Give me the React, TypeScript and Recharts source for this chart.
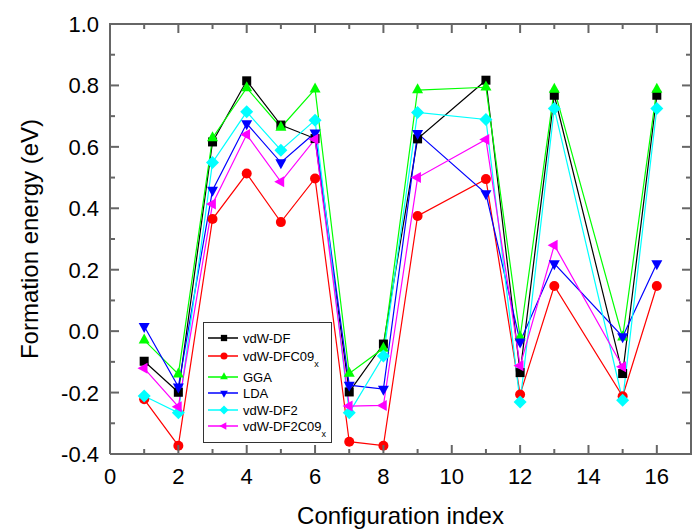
import React from 'react';
import { LineChart, Line, XAxis, YAxis } from 'recharts';

const configIndex = [1, 2, 3, 4, 5, 6, 7, 8, 9, 11, 12, 13, 15, 16];
const vdwDF = [-0.098, -0.199, 0.616, 0.815, 0.671, 0.627, -0.198, -0.042, 0.626, 0.817, -0.135, 0.768, -0.138, 0.768];
const vdwDFC09 = [-0.222, -0.373, 0.365, 0.513, 0.355, 0.497, -0.36, -0.373, 0.375, 0.495, -0.206, 0.147, -0.212, 0.147];
const gga = [-0.029, -0.14, 0.629, 0.792, 0.663, 0.788, -0.138, -0.056, 0.785, 0.794, -0.02, 0.787, -0.02, 0.787];
const lda = [0.016, -0.181, 0.459, 0.676, 0.549, 0.646, -0.176, -0.189, 0.644, 0.448, -0.035, 0.22, -0.018, 0.22];
const vdwDF2 = [-0.211, -0.266, 0.549, 0.714, 0.589, 0.687, -0.266, -0.081, 0.712, 0.689, -0.231, 0.725, -0.225, 0.725];
const vdwDF2C09 = [-0.121, -0.246, 0.414, 0.64, 0.486, 0.625, -0.244, -0.242, 0.5, 0.624, -0.113, 0.28, -0.116, null];

const xTicks = [0, 1, 2, 3, 4, 5, 6, 7, 8, 9, 10, 11, 12, 13, 14, 15, 16];
const yTicks = [-0.4, -0.3, -0.2, -0.1, 0, 0.1, 0.2, 0.3, 0.4, 0.5, 0.6, 0.7, 0.8, 0.9, 1.0];

const FONT = 'Liberation Sans, Arial, sans-serif';
const FRAME = '#666666';

const CHART_W = 694;
const CHART_H = 529;
const MARGIN = { top: 24, right: 3, bottom: 0, left: 0 };
const Y_AXIS_W = 110;
const X_AXIS_H = 75;
const PLOT_W = CHART_W - MARGIN.left - MARGIN.right - Y_AXIS_W;
const PLOT_H = CHART_H - MARGIN.top - MARGIN.bottom - X_AXIS_H;

type Shape = 'square' | 'circle' | 'up' | 'down' | 'diamond' | 'left';

const series: { key: string; name: string; sub?: string; color: string; shape: Shape; values: (number | null)[] }[] = [
  { key: 'vdwDF', name: 'vdW-DF', color: '#000000', shape: 'square', values: vdwDF },
  { key: 'vdwDFC09', name: 'vdW-DFC09', sub: 'x', color: '#ff0000', shape: 'circle', values: vdwDFC09 },
  { key: 'gga', name: 'GGA', color: '#00ff00', shape: 'up', values: gga },
  { key: 'lda', name: 'LDA', color: '#0000ff', shape: 'down', values: lda },
  { key: 'vdwDF2', name: 'vdW-DF2', color: '#00ffff', shape: 'diamond', values: vdwDF2 },
  { key: 'vdwDF2C09', name: 'vdW-DF2C09', sub: 'x', color: '#ff00ff', shape: 'left', values: vdwDF2C09 },
];

const data = configIndex.map((x, i) => {
  const row: any = { x };
  series.forEach((s) => {
    row[s.key] = s.values[i];
  });
  return row;
});

function Marker({ shape, cx, cy, color, k }: { shape: Shape; cx: number; cy: number; color: string; k: number }) {
  switch (shape) {
    case 'square': {
      const s = 9 * k;
      return <rect x={cx - s / 2} y={cy - s / 2} width={s} height={s} fill={color} />;
    }
    case 'circle':
      return <circle cx={cx} cy={cy} r={5 * k} fill={color} />;
    case 'up': {
      const w = 11 * k, h = 10 * k;
      return <polygon points={`${cx},${cy - (h * 2) / 3} ${cx - w / 2},${cy + h / 3} ${cx + w / 2},${cy + h / 3}`} fill={color} />;
    }
    case 'down': {
      const w = 11 * k, h = 10 * k;
      return <polygon points={`${cx},${cy + (h * 2) / 3} ${cx - w / 2},${cy - h / 3} ${cx + w / 2},${cy - h / 3}`} fill={color} />;
    }
    case 'diamond': {
      const r = 6.5 * k;
      return <polygon points={`${cx},${cy - r} ${cx + r},${cy} ${cx},${cy + r} ${cx - r},${cy}`} fill={color} />;
    }
    case 'left': {
      const w = 10 * k, h = 11 * k;
      return <polygon points={`${cx - (w * 2) / 3},${cy} ${cx + w / 3},${cy - h / 2} ${cx + w / 3},${cy + h / 2}`} fill={color} />;
    }
  }
  return null;
}

const isMajorY = (v: number) => Math.round(v * 10) % 2 === 0;
const isMajorX = (v: number) => v % 2 === 0;

const LeftTick = (props: any) => {
  const x = Number(props.x);
  const y = Number(props.y);
  const v = props.payload.value as number;
  const major = isMajorY(v);
  const len = major ? 9 : 5;
  const xr = x + PLOT_W;
  const first = props.index === 0;
  return (
    <g>
      <line x1={x} x2={x + len} y1={y} y2={y} stroke={FRAME} strokeWidth={2} />
      <line x1={xr} x2={xr - len} y1={y} y2={y} stroke={FRAME} strokeWidth={2} />
      {first && <line x1={xr} x2={xr} y1={y - PLOT_H - 1} y2={y + 1} stroke={FRAME} strokeWidth={2} />}
      {major && (
        <text x={x - 11} y={y + 8} textAnchor="end" fontSize={22} fontFamily={FONT} fill="#000000">
          {v.toFixed(1)}
        </text>
      )}
    </g>
  );
};

const BottomTick = (props: any) => {
  const x = Number(props.x);
  const y = Number(props.y);
  const v = props.payload.value as number;
  const major = isMajorX(v);
  const len = major ? 9 : 5;
  const yt = y - PLOT_H;
  const first = props.index === 0;
  return (
    <g>
      <line x1={x} x2={x} y1={y} y2={y - len} stroke={FRAME} strokeWidth={2} />
      <line x1={x} x2={x} y1={yt} y2={yt + len} stroke={FRAME} strokeWidth={2} />
      {first && <line x1={x - 1} x2={x + PLOT_W + 1} y1={yt} y2={yt} stroke={FRAME} strokeWidth={2} />}
      {major && (
        <text x={x} y={y + 30} textAnchor="middle" fontSize={22} fontFamily={FONT} fill="#000000">
          {v}
        </text>
      )}
    </g>
  );
};

const legendRowY = [16, 34, 55, 71, 88, 104];

const LegendBox = () => (
  <svg width={130} height={122} style={{ display: 'block' }}>
    <rect x={0.5} y={0.5} width={128} height={120} fill="#ffffff" stroke="#333333" strokeWidth={1} />
    {series.map((s, i) => {
      const y = legendRowY[i];
      return (
        <g key={s.key}>
          <line x1={5} x2={35} y1={y} y2={y} stroke={s.color} strokeWidth={1.5} />
          <Marker shape={s.shape} cx={21} cy={y} color={s.color} k={0.7} />
          <text x={40} y={y + 5} fontSize={13} fontFamily={FONT} fill="#000000">
            {s.name}
            {s.sub && (
              <tspan fontSize={9} dy={6}>
                {s.sub}
              </tspan>
            )}
          </text>
        </g>
      );
    })}
  </svg>
);

export default function App() {
  return (
    <div style={{ position: 'absolute', left: 0, top: 0, width: CHART_W, height: CHART_H }}>
      <LineChart width={CHART_W} height={CHART_H} data={data} margin={MARGIN}>
        <XAxis
          dataKey="x"
          type="number"
          domain={[0, 17]}
          ticks={xTicks}
          interval={0}
          height={X_AXIS_H}
          tickSize={0}
          tickMargin={0}
          tick={<BottomTick />}
          stroke={FRAME}
          axisLine={{ stroke: FRAME, strokeWidth: 2 }}
          label={{ value: 'Configuration index', position: 'insideBottom', offset: 5, fontSize: 24, fontFamily: FONT, fill: '#000000' }}
        />
        <YAxis
          type="number"
          domain={[-0.4, 1.0]}
          ticks={yTicks}
          interval={0}
          width={Y_AXIS_W}
          tickSize={0}
          tickMargin={0}
          tick={<LeftTick />}
          stroke={FRAME}
          axisLine={{ stroke: FRAME, strokeWidth: 2 }}
          label={{
            value: 'Formation energy (eV)',
            angle: -90,
            position: 'insideLeft',
            offset: 29,
            fontSize: 24,
            fontFamily: FONT,
            fill: '#000000',
            style: { textAnchor: 'middle' },
          }}
        />
        {series.map((s) => (
          <Line
            key={s.key}
            dataKey={s.key}
            name={s.name}
            stroke={s.color}
            strokeWidth={1.2}
            isAnimationActive={false}
            connectNulls={false}
            dot={(p: any) =>
              p.cx == null || p.cy == null || p.value == null ? (
                <g key={p.key} />
              ) : (
                <g key={p.key}>
                  <Marker shape={s.shape} cx={p.cx} cy={p.cy} color={s.color} k={1} />
                </g>
              )
            }
            activeDot={false}
          />
        ))}
      </LineChart>
      <div style={{ position: 'absolute', left: 203, top: 322 }}>
        <LegendBox />
      </div>
    </div>
  );
}
